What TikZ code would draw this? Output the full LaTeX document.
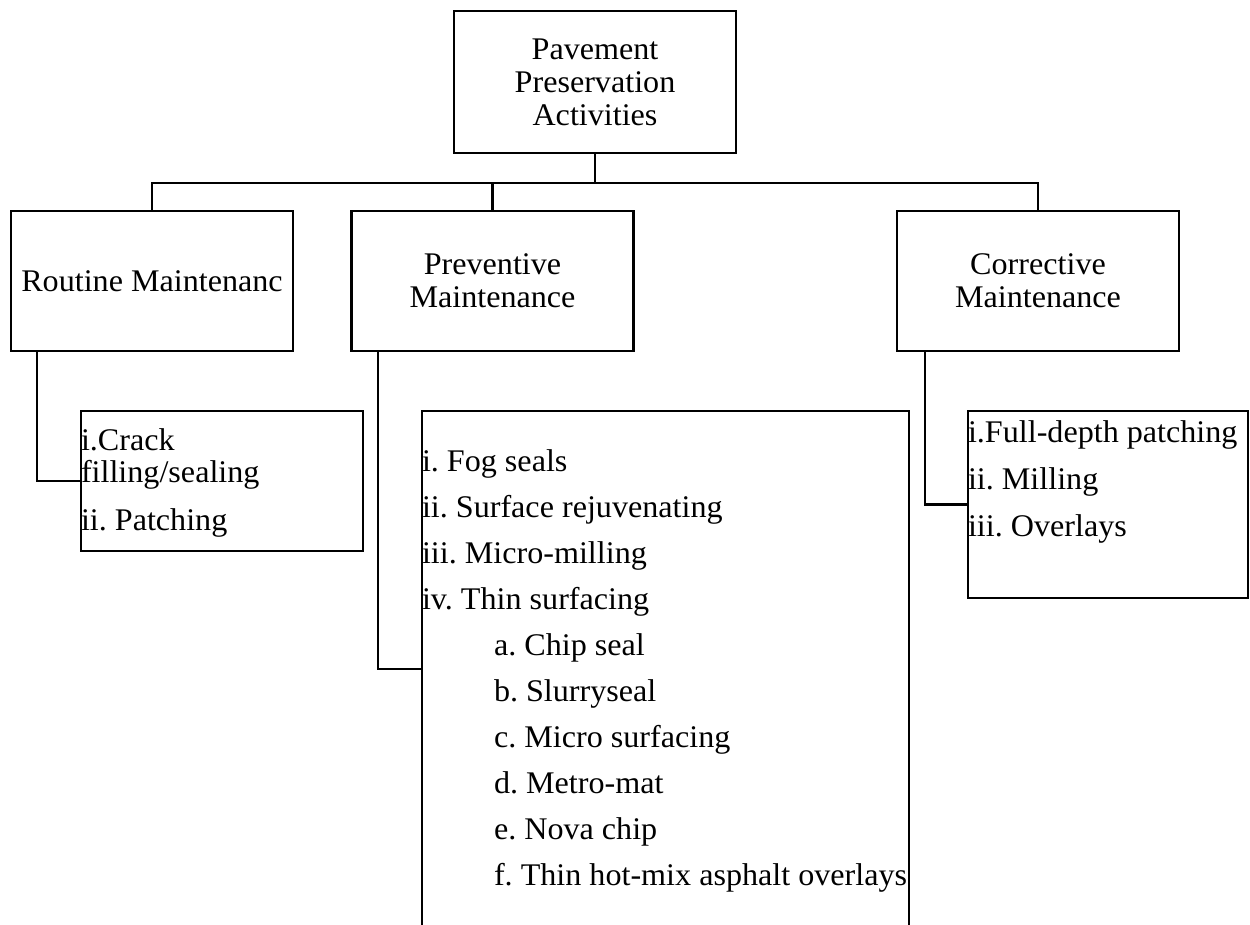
\documentclass[tikz,border=0pt]{standalone}
\usepackage{fontspec}
\setmainfont{Liberation Serif}[FakeStretch=1.02]
\usetikzlibrary{positioning}
\frenchspacing

\begin{document}
\begin{tikzpicture}[x=1pt, y=-1pt, line width=2.2pt,                                      % Pixel grid, heavy lines
                        node distance = 2cm and 3cm, on grid,                                % Node placement settings
                        box/.style = {draw, align=center, inner sep=0pt, minimum width=282pt,
                                      minimum height=140pt, font=\fontsize{31.5}{33}\selectfont},
                        listbox/.style = {draw, inner sep=0pt, font=\fontsize{31.5}{32}\selectfont}]
        \useasboundingbox (0,0) rectangle (1250,925);
        \node[box, minimum height=142pt] (top) at (595,82) {Pavement\\Preservation\\Activities};
        \node[box] (prev) [below left =199pt and 102.5pt of top] {Preventive\\Maintenance};
        \node[box] (routine) [left =340.5pt of prev] {Routine Maintenanc};
        \node[box] (corr) [right =545.5pt of prev] {Corrective\\Maintenance};
        \node[listbox] (rsub) [below right =200pt and 70pt of routine]
            {\parbox[c][140pt][t]{282pt}{\rule{0pt}{39pt}i.Crack\\filling/sealing\\[16pt]ii. Patching}};
        \node[listbox] (psub) [below right =388pt and 173pt of prev]
            {\parbox[c][516pt][t]{487pt}{\fontsize{31.5}{46}\selectfont\rule{0pt}{60pt}i. Fog seals\\
             ii. Surface rejuvenating\\iii. Micro-milling\\iv. Thin surfacing\\
             \hspace*{72pt}a. Chip seal\\\hspace*{72pt}b. Slurryseal\\\hspace*{72pt}c. Micro surfacing\\
             \hspace*{72pt}d. Metro-mat\\\hspace*{72pt}e. Nova chip\\\hspace*{72pt}f. Thin hot-mix asphalt overlays}};
        \node[listbox] (csub) [below right =223.5pt and 70pt of corr]
            {\parbox[c][187pt][t]{280pt}{\fontsize{31.5}{47}\selectfont\rule{0pt}{31pt}i.Full-depth patching\\
             ii. Milling\\iii. Overlays}};
        \path (top.south) ++(0,29) coordinate (bus);
        %edge:tree
        \draw (top.south) -- (bus);
        \draw (routine.north) |- (bus) -| (corr.north);
        \draw (bus -| prev.north) -- (prev.north);
        %edge:lists
        \draw ([xshift=27pt]routine.south west) |- (rsub.west);
        \draw ([xshift=27.5pt]prev.south west) |- (psub.west);
        \draw ([xshift=29pt]corr.south west) |- (csub.west);
    \end{tikzpicture}
\end{document}
